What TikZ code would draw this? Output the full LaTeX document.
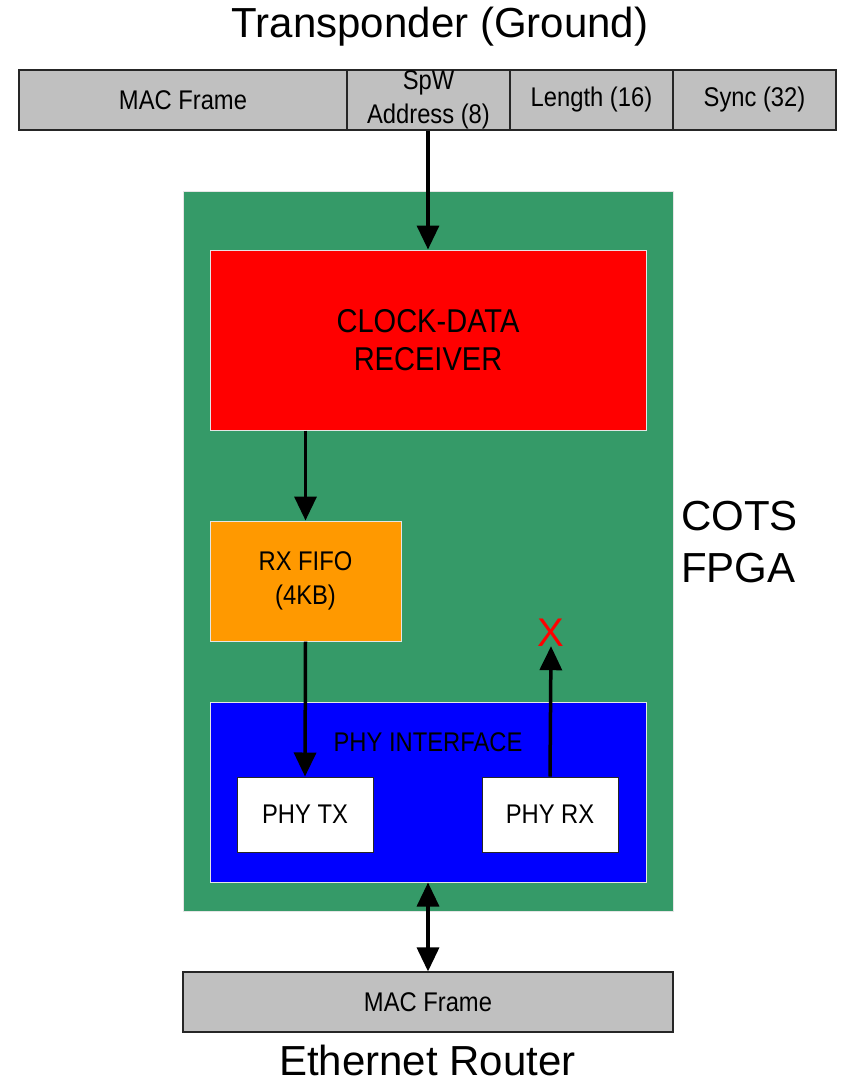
\documentclass[tikz,border=0pt]{standalone}
\usepackage{fontspec}
\setmainfont{Liberation Sans}
\newfontfamily\narrowsf[FakeStretch=0.88]{Liberation Sans}
\usetikzlibrary{arrows.meta}
\definecolor{fpgagreen}{RGB}{53,154,104}
\definecolor{cellgray}{RGB}{192,192,192}
\definecolor{fifoorange}{RGB}{255,153,0}
\begin{document}
\begin{tikzpicture}[x=1pt,y=-1pt,
  small/.style={font=\narrowsf\fontsize{27}{34}\selectfont},
  cell/.style={draw=black!85,line width=1.2pt,fill=cellgray,inner sep=0pt,minimum height=60pt,small,align=center},
  block/.style={draw=white!80!gray,line width=1pt,inner sep=0pt,align=center},
  phybox/.style={draw=black!85,line width=1pt,fill=white,inner sep=0pt,minimum width=136pt,minimum height=75pt,small},
  big/.style={font=\fontsize{42}{52}\selectfont,inner sep=0pt},
  arr/.style={line width=3.5pt,-{Triangle[width=22pt,length=24pt]}},
  darr/.style={line width=3.5pt,{Triangle[width=22pt,length=24pt]}-{Triangle[width=22pt,length=24pt]}}]
\useasboundingbox (0,0) rectangle (841,1084);
% title
\node[big] (title) at (440,27) {Transponder (Ground)};
% top frame
\node[cell,minimum width=328pt] (mac) at (183,100) {MAC Frame};
\node[cell,minimum width=163pt] (spw) at (428.5,100) {SpW\\Address (8)};
\node[cell,minimum width=163pt] (len) at (591.5,100) {Length (16)};
\node[cell,minimum width=163pt] (sync) at (754.5,100) {Sync (32)};
% FPGA
\node[block,fill=fpgagreen,minimum width=490pt,minimum height=720pt] (fpga) at (428,551) {};
\node[big,anchor=west,align=left,font=\fontsize{42}{52}\selectfont] (cots) at (681,542) {COTS\\FPGA};
% clock-data receiver
\node[block,fill=red,minimum width=436pt,minimum height=180pt,font=\narrowsf\fontsize{33}{38}\selectfont] (cdr) at (428,340) {CLOCK-DATA\\RECEIVER};
% fifo
\node[block,fill=fifoorange,minimum width=191pt,minimum height=120pt,small] (fifo) at (305.5,581) {RX FIFO\\(4KB)};
% phy interface
\node[block,fill=blue,minimum width=436pt,minimum height=180pt] (phy) at (428,792) {};
\node[inner sep=0pt,small] (phylabel) at (428,742) {PHY INTERFACE};
\node[phybox] (tx) at (305,814.5) {PHY TX};
\node[phybox] (rx) at (550,814.5) {PHY RX};
\node[inner sep=0pt,anchor=base,text=red,font=\fontsize{40}{48}\selectfont] (xmark) at (551,646) {X};
% bottom frame
\node[cell,minimum width=490pt] (mac2) at (428,1002) {MAC Frame};
\node[big,anchor=base] (router) at (427.5,1075) {Ethernet Router};
% connectors
\draw[arr] (spw.south -| cdr.north) -- (cdr.north);
\draw[arr] (fifo.north |- cdr.south) -- (fifo.north);
\draw[arr] (fifo.south) -- (tx.north);
\draw[arr] (rx.north) -- (xmark.south);
\draw[darr] (phy.south) -- (mac2.north);
\end{tikzpicture}
\end{document}
